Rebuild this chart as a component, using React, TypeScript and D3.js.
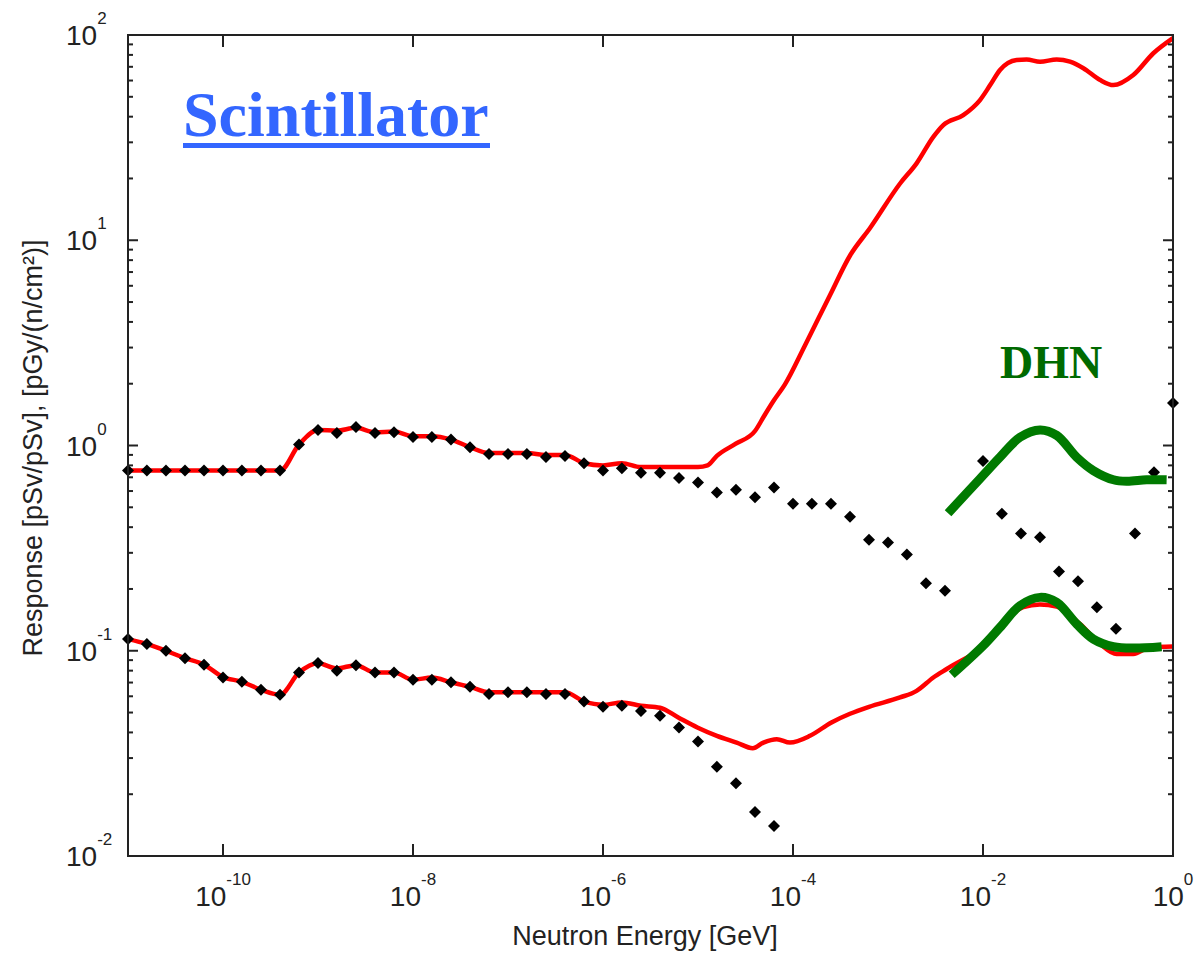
import React from 'react';
import * as d3 from 'd3';

// marker grid, 5 points per decade
const markerEnergy = [
  1e-11, 1.58e-11, 2.51e-11, 3.98e-11, 6.31e-11,
  1e-10, 1.58e-10, 2.51e-10, 3.98e-10, 6.31e-10,
  1e-9, 1.58e-9, 2.51e-9, 3.98e-9, 6.31e-9,
  1e-8, 1.58e-8, 2.51e-8, 3.98e-8, 6.31e-8,
  1e-7, 1.58e-7, 2.51e-7, 3.98e-7, 6.31e-7,
  1e-6, 1.58e-6, 2.51e-6, 3.98e-6, 6.31e-6,
  1e-5, 1.58e-5, 2.51e-5, 3.98e-5, 6.31e-5,
  1e-4, 1.58e-4, 2.51e-4, 3.98e-4, 6.31e-4,
  1e-3, 1.58e-3, 2.51e-3, 3.98e-3, 6.31e-3,
  1e-2, 1.58e-2, 2.51e-2, 3.98e-2, 6.31e-2,
  1e-1, 1.58e-1, 2.51e-1, 3.98e-1, 6.31e-1,
  1
];

const upperMarkers = [
  0.755, 0.755, 0.755, 0.755, 0.755, 0.755, 0.755, 0.755, 0.755,
  1.01, 1.19, 1.15, 1.23, 1.15, 1.16, 1.10, 1.10, 1.07, 0.98,
  0.91, 0.91, 0.91, 0.88, 0.89, 0.82, 0.755, 0.775, 0.736, 0.736,
  0.695, 0.66, 0.59, 0.608, 0.56, 0.625, 0.52, 0.52, 0.52, 0.45,
  0.347, 0.337, 0.294, 0.213, 0.196, null,
  0.84, 0.465, 0.373, 0.357, 0.243, 0.218, 0.163, 0.128, 0.373, 0.741, 1.61
];

const lowerMarkers = [
  0.114, 0.108, 0.100, 0.092, 0.0855, 0.0741, 0.0706, 0.0646, 0.061,
  0.0783, 0.0871, 0.0798, 0.0851, 0.0783, 0.0783, 0.0723, 0.0723, 0.0702, 0.0667,
  0.0615, 0.0627, 0.0627, 0.0615, 0.0615, 0.0566, 0.0533, 0.054, 0.0509, 0.0482,
  0.0423, 0.0361, 0.0272, 0.0226, 0.0164, 0.014,
  null, null, null, null, null, null, null, null, null, null, null,
  null, null, null, null, null, null, null, null, null, null
];

// red curves
const redUpperE = [
  1e-11, 4e-10, 6.3e-10, 1e-9, 1.58e-9, 2.5e-9, 4e-9, 6.3e-9, 1e-8, 1.58e-8,
  2.5e-8, 4e-8, 6.3e-8, 1.58e-7, 2.5e-7, 4e-7, 6.3e-7, 1e-6, 1.58e-6, 2.5e-6,
  1e-5, 1.26e-5, 1.58e-5, 2.5e-5, 4e-5, 5e-5, 6.3e-5, 8.2e-5, 1.34e-4, 2.45e-4,
  4e-4, 6.5e-4, 1.34e-3, 2e-3, 3e-3, 3.82e-3, 6.2e-3, 9.3e-3, 1.19e-2, 1.51e-2,
  2.26e-2, 2.88e-2, 3.98e-2, 5.97e-2, 8.24e-2, 0.114, 0.171, 0.236, 0.382, 0.621, 1
];
const redUpperR = [
  0.755, 0.755, 1.01, 1.19, 1.18, 1.22, 1.16, 1.17, 1.11, 1.11,
  1.07, 0.98, 0.92, 0.92, 0.90, 0.90, 0.82, 0.80, 0.82, 0.785,
  0.785, 0.80, 0.89, 1.02, 1.18, 1.40, 1.66, 1.98, 3.08, 5.4,
  8.45, 11.5, 18.9, 23.7, 31.9, 36.4, 40.7, 48.2, 57.0, 67.5,
  75.5, 76.0, 74.1, 76.0, 74.1, 68.9, 60.3, 57.0, 63.8, 81.5, 96.6
];

const redLowerE = [
  1e-11, 1.58e-11, 2.51e-11, 3.98e-11, 6.31e-11, 1e-10, 1.58e-10, 2.51e-10, 3.98e-10, 6.31e-10,
  1e-9, 1.58e-9, 2.51e-9, 3.98e-9, 6.31e-9, 1e-8, 1.58e-8, 2.51e-8, 3.98e-8, 6.31e-8,
  1e-7, 3.98e-7, 6.31e-7, 1e-6, 1.58e-6, 2.51e-6, 3.98e-6, 6.2e-6, 9.84e-6, 1.58e-5,
  2.55e-5, 3.77e-5, 4.88e-5, 6.76e-5, 9.29e-5, 1.51e-4, 2.51e-4, 3.98e-4, 6.31e-4, 1.34e-3,
  2e-3, 3e-3, 4.15e-3, 1e-2, 2.65e-2, 3.98e-2, 5.97e-2, 0.105, 0.171, 0.255, 0.382, 0.573, 1
];
const redLowerR = [
  0.114, 0.108, 0.100, 0.092, 0.0855, 0.0745, 0.0706, 0.0646, 0.061, 0.0783,
  0.087, 0.082, 0.0851, 0.0783, 0.0783, 0.0723, 0.074, 0.0702, 0.0667, 0.0627,
  0.0627, 0.0627, 0.0566, 0.0545, 0.056, 0.054, 0.0528, 0.0473, 0.0423, 0.0385,
  0.0357, 0.0335, 0.0357, 0.0371, 0.0357, 0.0385, 0.0446, 0.0493, 0.0533, 0.0592,
  0.0638, 0.0741, 0.0815, 0.104, 0.163, 0.168, 0.164, 0.135, 0.108, 0.0964, 0.0964, 0.104, 0.105
];

// DHN curves
const dhnUpperE = [4.29e-3, 9.3e-3, 1.51e-2, 2.45e-2, 3.98e-2, 5.97e-2, 9.68e-2, 0.145, 0.236, 0.326, 0.528, 0.857];
const dhnUpperR = [0.468, 0.689, 0.877, 1.096, 1.19, 1.12, 0.877, 0.755, 0.681, 0.670, 0.681, 0.681];
const dhnLowerE = [4.68e-3, 1e-2, 1.51e-2, 2.45e-2, 3.98e-2, 5.97e-2, 9.68e-2, 0.145, 0.236, 0.382, 0.759];
const dhnLowerR = [0.0764, 0.1057, 0.130, 0.166, 0.182, 0.172, 0.135, 0.114, 0.1047, 0.103, 0.1047];

const xTickExps = [-10, -8, -6, -4, -2, 0];
const yTickExps = [-2, -1, 0, 1, 2];

const W = 1194, H = 954;
const left = 128, right = 1173, top = 35, bottom = 856;

const x = d3.scaleLog().domain([1e-11, 1]).range([left, right]);
const y = d3.scaleLog().domain([1e-2, 1e2]).range([bottom, top]);

type Pt = [number, number];
const zip = (e: number[], r: (number | null)[]): Pt[] =>
  e.map((v, i) => [v, r[i]] as [number, number | null]).filter(d => d[1] != null) as Pt[];

const redLine = d3.line<Pt>().x(d => x(d[0])).y(d => y(d[1])).curve(d3.curveMonotoneX);
const greenLine = d3.line<Pt>().x(d => x(d[0])).y(d => y(d[1])).curve(d3.curveCatmullRom);
const diamond = d3.symbol().type(d3.symbolSquare).size(72)();

const tickFont = '"Liberation Sans", Arial, sans-serif';

export default function App() {
  const markers = [...zip(markerEnergy, upperMarkers), ...zip(markerEnergy, lowerMarkers)];
  const minorY = y.ticks().filter(v => Math.abs(Math.log10(v) - Math.round(Math.log10(v))) > 1e-6);

  return (
    <svg width={W} height={H} style={{ position: 'absolute', left: 0, top: 0, background: '#fff' }}>
      <rect x={0} y={0} width={W} height={H} fill="#fff" />

      {/* title */}
      <text x={183} y={136} fill="#3366ff" fontFamily='"Liberation Serif", "Times New Roman", serif'
        fontWeight="bold" fontSize={64}>Scintillator</text>
      <rect x={183} y={143} width={307} height={5} fill="#3366ff" />

      {/* curves */}
      <path d={redLine(zip(redUpperE, redUpperR)) || ''} fill="none" stroke="#ff0000" strokeWidth={4.5} />
      <path d={redLine(zip(redLowerE, redLowerR)) || ''} fill="none" stroke="#ff0000" strokeWidth={4.5} />

      {markers.map((d, i) => (
        <path key={i} d={diamond || ''} fill="#000"
          transform={`translate(${x(d[0])},${y(d[1])}) rotate(45)`} />
      ))}

      <path d={greenLine(zip(dhnUpperE, dhnUpperR)) || ''} fill="none" stroke="#007a00" strokeWidth={9} />
      <path d={greenLine(zip(dhnLowerE, dhnLowerR)) || ''} fill="none" stroke="#007a00" strokeWidth={9} />

      <text x={1000} y={378} fill="#006a00" fontFamily='"Liberation Serif", "Times New Roman", serif'
        fontWeight="bold" fontSize={46}>DHN</text>

      {/* frame */}
      <rect x={left} y={top} width={right - left} height={bottom - top} fill="none" stroke="#222" strokeWidth={2} />

      {/* x ticks */}
      {xTickExps.map(k => {
        const px = x(Math.pow(10, k));
        return (
          <g key={'x' + k}>
            <line x1={px} x2={px} y1={bottom} y2={bottom - 12} stroke="#222" strokeWidth={2} />
            <line x1={px} x2={px} y1={top} y2={top + 12} stroke="#222" strokeWidth={2} />
            <text x={px} y={906} textAnchor="middle" fontFamily={tickFont} fontSize={28} fill="#222">
              10<tspan dy={-21} fontSize={17}>{k}</tspan>
            </text>
          </g>
        );
      })}

      {/* y ticks */}
      {yTickExps.map(k => {
        const py = y(Math.pow(10, k));
        return (
          <g key={'y' + k}>
            <line x1={left} x2={left + 10} y1={py} y2={py} stroke="#222" strokeWidth={2} />
            <line x1={right} x2={right - 10} y1={py} y2={py} stroke="#222" strokeWidth={2} />
            <text x={66} y={py + 10} fontFamily={tickFont} fontSize={28} fill="#222">
              10<tspan dy={-21} fontSize={17}>{k}</tspan>
            </text>
          </g>
        );
      })}
      {minorY.map((v, i) => (
        <g key={'m' + i}>
          <line x1={left} x2={left + 5} y1={y(v)} y2={y(v)} stroke="#222" strokeWidth={2} />
          <line x1={right} x2={right - 5} y1={y(v)} y2={y(v)} stroke="#222" strokeWidth={2} />
        </g>
      ))}

      {/* axis titles */}
      <text x={645} y={945} textAnchor="middle" fontFamily={tickFont} fontSize={27} fill="#222">
        Neutron Energy [GeV]
      </text>
      <text transform="translate(42,448) rotate(-90)" textAnchor="middle" fontFamily={tickFont}
        fontSize={27} fill="#222">
        Response [pSv/pSv], [pGy/(n/cm²)]
      </text>
    </svg>
  );
}
